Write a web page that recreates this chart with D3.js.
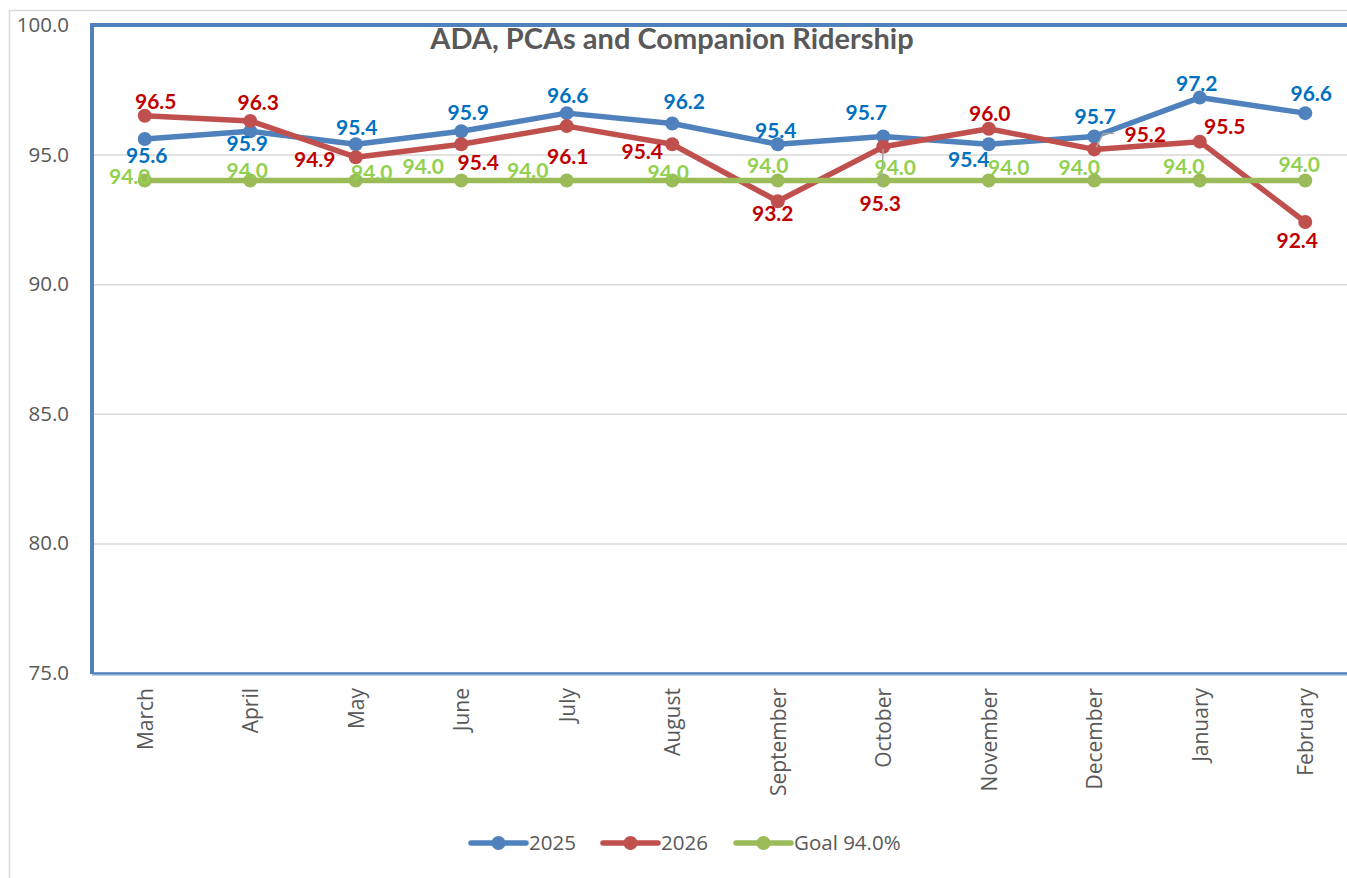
<!DOCTYPE html>
<html>
<head>
<meta charset="utf-8">
<script src="https://cdn.jsdelivr.net/npm/d3@7"></script>
<style>
  html, body { margin: 0; padding: 0; background: #fff; }
  svg { display: block; }
</style>
</head>
<body>
<svg id="chart" width="1347" height="878"></svg>
<script>
// ---- Data ----
const months = ["March","April","May","June","July","August","September","October","November","December","January","February"];
const values2025 = [95.6, 95.9, 95.4, 95.9, 96.6, 96.2, 95.4, 95.7, 95.4, 95.7, 97.2, 96.6];
const values2026 = [96.5, 96.3, 94.9, 95.4, 96.1, 95.4, 93.2, 95.3, 96.0, 95.2, 95.5, 92.4];
const valuesGoal = [94.0, 94.0, 94.0, 94.0, 94.0, 94.0, 94.0, 94.0, 94.0, 94.0, 94.0, 94.0];
const yTicks = [75, 80, 85, 90, 95, 100];
const seriesNames = ["2025", "2026", "Goal 94.0%"];
const chartTitle = "ADA, PCAs and Companion Ridership";

// ---- Layout (label placement offsets, px) ----
const labelOffsets2025 = [[2,16],[-3,12],[1,-17],[7,-19],[1,-18],[12,-22],[-2,-14],[-17,-24],[-20,15],[1,-20],[-3,-14],[6,-20]];
const labelOffsets2026 = [[11,-14],[8,-18],[-41,2],[17,18],[1,30],[-30,7],[-5,12],[-3,57],[1,-15],[51,-15],[25,-15],[-8,18]];
const labelOffsetsGoal = [[-15,-4],[-3,-10],[16,-8],[-38,-14],[-39,-10],[-4,-8],[-10,-15],[12,-13],[20,-13],[-15,-13],[-16,-14],[-6,-16]];

const series = [
  { name: seriesNames[0], values: values2025, line: "#4F81BD", label: "#0070C0", offsets: labelOffsets2025 },
  { name: seriesNames[1], values: values2026, line: "#C0504D", label: "#C00000", offsets: labelOffsets2026 },
  { name: seriesNames[2], values: valuesGoal, line: "#9BBB59", label: "#92D050", offsets: labelOffsetsGoal }
];

const svg = d3.select("#chart");
const W = 1347, H = 878;
const plot = { left: 92, top: 25, right: 1358, bottom: 673 };

const x = d3.scalePoint().domain(months).range([plot.left, plot.right]).padding(0.5);
const y = d3.scaleLinear().domain([75, 100]).range([plot.bottom, plot.top]);

const axisFont = "'Open Sans', 'Noto Sans', sans-serif";
const boldFont = "Lato, 'Open Sans', sans-serif";
const gray = "#595959";

// outer chart border
svg.append("rect").attr("x", 9.5).attr("y", 10.5).attr("width", W).attr("height", H)
  .attr("fill", "none").attr("stroke", "#d9d9d9").attr("stroke-width", 1.5);

// gridlines
const yAxisG = svg.append("g").attr("transform", `translate(${plot.left},0)`)
  .call(d3.axisLeft(y).tickValues(yTicks).tickSize(-(plot.right - plot.left)).tickFormat(d3.format(".1f")).tickPadding(23));
yAxisG.select(".domain").remove();
yAxisG.selectAll(".tick line").attr("stroke", "#d9d9d9").attr("stroke-width", 1.5)
  .attr("opacity", d => (d === 100 || d === 75) ? 0 : 1);
yAxisG.selectAll(".tick text").attr("fill", gray).attr("font-family", axisFont).attr("font-size", 20.5);

// plot area border (left & top thick blue)
svg.append("line").attr("x1", plot.left).attr("x2", plot.left).attr("y1", plot.top - 2).attr("y2", plot.bottom + 1)
  .attr("stroke", "#4F81BD").attr("stroke-width", 4);
svg.append("line").attr("x1", plot.left - 2).attr("x2", plot.right).attr("y1", plot.top).attr("y2", plot.top)
  .attr("stroke", "#4F81BD").attr("stroke-width", 4);

// x axis
const xAxisG = svg.append("g").attr("transform", `translate(0,${plot.bottom})`)
  .call(d3.axisBottom(x).tickSize(0).tickPadding(0));
xAxisG.select(".domain").attr("stroke", "#4F81BD").attr("stroke-width", 2.5);
svg.append("line").attr("x1", plot.left).attr("x2", plot.right).attr("y1", plot.bottom + 2.2).attr("y2", plot.bottom + 2.2)
  .attr("stroke", "#9DB9DD").attr("stroke-width", 1);
xAxisG.selectAll(".tick text")
  .attr("fill", gray).attr("font-family", axisFont).attr("font-size", 21)
  .attr("text-anchor", "end")
  .attr("transform", "rotate(-90)")
  .attr("x", -15).attr("y", 0).attr("dy", "0.36em");

// lines & markers
const lineGen = d3.line().x((d, i) => x(months[i])).y(d => y(d));
series.forEach(s => {
  svg.append("path").datum(s.values).attr("d", lineGen)
    .attr("fill", "none").attr("stroke", s.line).attr("stroke-width", 5.5).attr("stroke-linejoin", "round").attr("stroke-linecap", "round");
  svg.append("g").selectAll("circle").data(s.values).join("circle")
    .attr("cx", (d, i) => x(months[i])).attr("cy", d => y(d)).attr("r", 7).attr("fill", s.line);
});

// leader lines for 2026 October and December labels
const iOct = months.indexOf("October"), iDec = months.indexOf("December");
svg.append("line").attr("x1", x(months[iOct])).attr("y1", y(values2026[iOct]) + 2)
  .attr("x2", x(months[iOct]) - 2).attr("y2", y(values2026[iOct]) + 39)
  .attr("stroke", "#a6a6a6").attr("stroke-width", 1.5);
svg.append("polyline").attr("points", [
    [x(months[iDec]) + 2, y(values2026[iDec]) - 2],
    [x(months[iDec]) + 9, y(values2026[iDec]) - 16],
    [x(months[iDec]) + 20, y(values2026[iDec]) - 16]].map(p => p.join(",")).join(" "))
  .attr("fill", "none").attr("stroke", "#a6a6a6").attr("stroke-width", 1.5);

// data labels
series.forEach(s => {
  svg.append("g").selectAll("text").data(s.values).join("text")
    .attr("x", (d, i) => x(months[i]) + s.offsets[i][0])
    .attr("y", (d, i) => y(d) + s.offsets[i][1])
    .attr("dy", "0.36em")
    .attr("text-anchor", "middle")
    .attr("font-family", boldFont).attr("font-weight", "bold").attr("font-size", 21)
    .attr("fill", s.label)
    .text(d => d3.format(".1f")(d));
});

// title
svg.append("text").attr("x", 672).attr("y", 49).attr("text-anchor", "middle")
  .attr("font-family", boldFont).attr("font-weight", "bold").attr("font-size", 29)
  .attr("fill", gray).text(chartTitle);

// legend
const legendItems = [
  { name: seriesNames[0], color: series[0].line, x0: 471 },
  { name: seriesNames[1], color: series[1].line, x0: 603 },
  { name: seriesNames[2], color: series[2].line, x0: 736 }
];
const lg = svg.append("g");
legendItems.forEach(it => {
  lg.append("line").attr("x1", it.x0).attr("x2", it.x0 + 55).attr("y1", 843).attr("y2", 843)
    .attr("stroke", it.color).attr("stroke-width", 5.5).attr("stroke-linecap", "round");
  lg.append("circle").attr("cx", it.x0 + 27.5).attr("cy", 843).attr("r", 7).attr("fill", it.color);
  lg.append("text").attr("x", it.x0 + 58).attr("y", 843).attr("dy", "0.36em")
    .attr("font-family", axisFont).attr("font-size", 20.5).attr("fill", gray).text(it.name);
});
</script>
</body>
</html>
